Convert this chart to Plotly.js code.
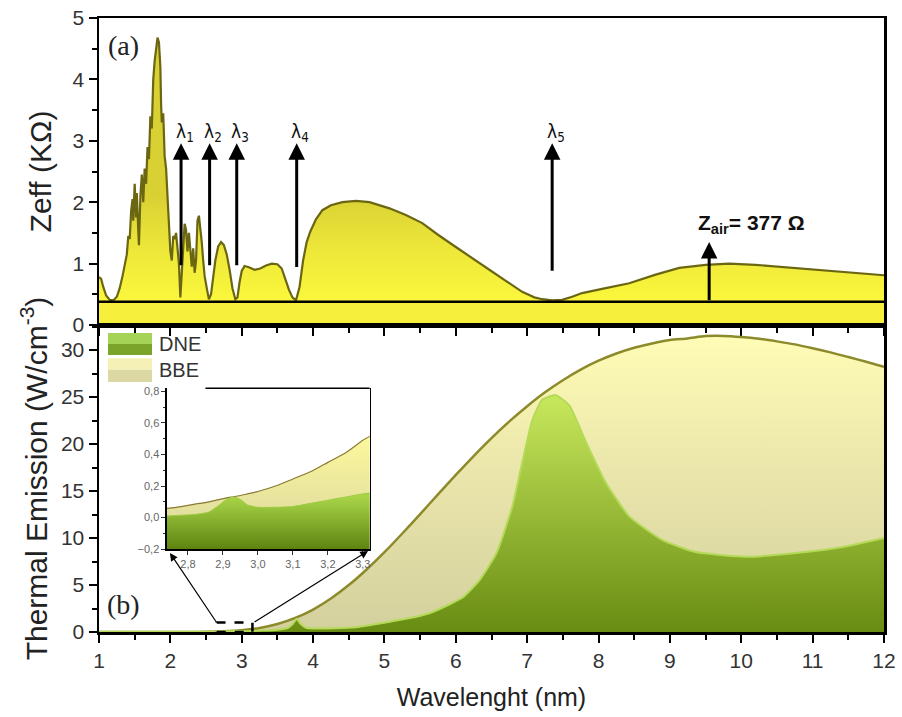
<!DOCTYPE html>
<html>
<head>
<meta charset="utf-8">
<script src="https://cdn.plot.ly/plotly-3.0.1.min.js"></script>
<style>html,body{margin:0;padding:0;background:#fff;}#chart{width:902px;height:717px;}</style>
</head>
<body>
<div id="chart"></div>
<script>
// ---- Panel (a): effective impedance Zeff (kOhm) vs wavelength ----
const zeffX = [1.00,1.03,1.06,1.10,1.15,1.20,1.25,1.29,1.33,1.36,1.39,1.41,1.43,1.45,1.47,1.48,1.50,1.52,1.53,1.55,1.56,1.58,1.60,1.62,1.64,1.66,1.68,1.70,1.72,1.74,1.76,1.78,1.80,1.82,1.84,1.86,1.87,1.88,1.90,1.92,1.94,1.96,1.98,2.00,2.02,2.04,2.06,2.08,2.10,2.12,2.14,2.16,2.18,2.20,2.22,2.24,2.26,2.28,2.30,2.32,2.34,2.36,2.38,2.40,2.42,2.44,2.46,2.48,2.51,2.54,2.57,2.60,2.63,2.67,2.71,2.75,2.79,2.83,2.87,2.91,2.94,2.97,3.00,3.04,3.10,3.18,3.26,3.34,3.42,3.50,3.56,3.61,3.66,3.71,3.76,3.81,3.86,3.91,3.96,4.04,4.13,4.25,4.41,4.60,4.79,5.07,5.30,5.53,5.75,6.00,6.25,6.47,6.70,6.93,7.10,7.21,7.35,7.49,7.63,7.77,8.10,8.43,8.80,9.13,9.50,9.83,10.20,10.52,10.90,11.22,11.60,12.00];
const zeffY = [0.78,0.75,0.62,0.48,0.41,0.40,0.46,0.60,0.80,0.98,1.15,1.45,1.40,1.85,2.05,1.70,2.30,1.75,2.15,1.55,1.30,2.10,2.45,2.00,2.55,2.30,2.90,2.70,3.40,3.20,4.00,4.30,4.50,4.68,4.60,4.20,3.60,3.30,3.45,2.75,2.55,2.10,1.70,1.20,1.05,1.45,1.40,1.50,1.25,1.00,0.45,0.90,1.35,1.65,1.55,1.20,1.50,1.25,0.95,1.25,0.85,1.05,1.70,1.78,1.60,1.35,1.05,0.80,0.60,0.42,0.50,0.75,1.05,1.28,1.35,1.30,1.15,0.90,0.60,0.42,0.45,0.70,0.88,0.96,0.94,0.90,0.92,0.97,1.00,0.99,0.92,0.75,0.58,0.45,0.40,0.62,1.05,1.35,1.52,1.72,1.87,1.95,2.00,2.02,2.00,1.90,1.79,1.66,1.47,1.27,1.08,0.90,0.72,0.54,0.45,0.42,0.40,0.41,0.46,0.52,0.60,0.68,0.82,0.93,0.98,1.00,0.98,0.95,0.92,0.88,0.85,0.81];
const zAir = 0.377; // kOhm
const lambdaX = [2.15, 2.55, 2.93, 3.77, 7.35];
const lambdaNames = ['λ<sub>1</sub>','λ<sub>2</sub>','λ<sub>3</sub>','λ<sub>4</sub>','λ<sub>5</sub>'];
const zAirArrowX = 9.55;

// ---- Panel (b): thermal emission ----
const bbeX = [1.0,1.25,1.5,1.75,2.0,2.25,2.5,2.75,3.0,3.25,3.5,3.75,4.0,4.25,4.5,4.75,5.0,5.25,5.5,5.75,6.0,6.25,6.5,6.75,7.0,7.25,7.5,7.75,8.0,8.25,8.5,8.75,9.0,9.25,9.5,9.75,10.0,10.25,10.5,10.75,11.0,11.25,11.5,11.75,12.0];
const bbeY = [0,0,0,0,0.001,0.005,0.02,0.07,0.19,0.43,0.85,1.50,2.39,3.56,4.99,6.65,8.49,10.48,12.54,14.64,16.71,18.72,20.63,22.40,24.02,25.50,26.79,27.92,28.86,29.63,30.24,30.70,31.06,31.23,31.48,31.50,31.39,31.20,30.92,30.60,30.19,29.75,29.25,28.75,28.20];
const dneX = [1.0,2.0,2.6,2.9,3.0,3.3,3.5,3.65,3.72,3.77,3.82,3.9,4.0,4.3,4.6,4.93,5.3,5.63,5.9,6.1,6.33,6.57,6.79,6.93,7.07,7.21,7.4,7.59,7.83,8.1,8.43,8.89,9.36,10.06,10.76,11.46,12.0];
const dneY = [0.02,0.02,0.03,0.10,0.07,0.15,0.25,0.45,0.90,1.40,0.90,0.45,0.38,0.40,0.50,0.90,1.40,2.00,2.90,3.70,5.50,8.40,13.30,18.00,22.50,24.70,25.20,24.10,20.10,15.90,12.30,9.80,8.50,8.00,8.40,9.10,10.00];

// ---- Inset (zoom 2.74 - 3.32) ----
const insetX   = [2.74,2.78,2.82,2.86,2.89,2.91,2.93,2.95,2.97,3.00,3.05,3.10,3.15,3.20,3.25,3.30,3.32];
const insetBBE = [0.058,0.07,0.085,0.10,0.115,0.125,0.132,0.14,0.15,0.165,0.20,0.245,0.29,0.35,0.41,0.49,0.516];
const insetDNE = [0.01,0.015,0.02,0.035,0.08,0.115,0.13,0.115,0.08,0.065,0.065,0.07,0.09,0.11,0.13,0.15,0.155];
const insetBase = insetX.map(() => -0.2);

const legendNames = ['DNE','BBE'];

const FONT = 'Liberation Sans, Arial, sans-serif';
const SERIF = 'Liberation Serif, DejaVu Serif, serif';

const traces = [
  // panel a
  {x: zeffX, y: zeffY, xaxis:'x', yaxis:'y', type:'scatter', mode:'lines', fill:'tozeroy',
   line:{color:'#6b6612', width:2.2},
   fillgradient:{type:'vertical', start:0.3, stop:2.1, colorscale:[[0,'#fcf93c'],[0.5,'#eee83a'],[1,'#d9d134']]},
   showlegend:false, hoverinfo:'skip'},
  {x: [1, 12], y: [zAir, zAir], xaxis:'x', yaxis:'y', type:'scatter', mode:'lines', fill:'tozeroy',
   fillcolor:'#f6f03c', line:{color:'#000', width:2.5}, showlegend:false, hoverinfo:'skip'},
  // panel b
  {x: bbeX, y: bbeY, xaxis:'x2', yaxis:'y2', type:'scatter', mode:'lines', fill:'tozeroy', name:legendNames[1],
   line:{color:'#8c8a2a', width:2.5, shape:'spline', smoothing:0.6},
   fillgradient:{type:'vertical', start:0, stop:31.5, colorscale:[[0,'#d4d09e'],[0.5,'#e8e4aa'],[1,'#fffcb6']]},
   showlegend:false, hoverinfo:'skip'},
  {x: dneX, y: dneY, xaxis:'x2', yaxis:'y2', type:'scatter', mode:'lines', fill:'tozeroy', name:legendNames[0],
   line:{color:'#b4da58', width:2, shape:'spline', smoothing:0.5},
   fillgradient:{type:'vertical', start:0, stop:25.2, colorscale:[[0,'#688c12'],[0.45,'#93b534'],[1,'#c8e85c']]},
   showlegend:false, hoverinfo:'skip'},
  // inset
  {x: insetX, y: insetBase, xaxis:'x3', yaxis:'y3', type:'scatter', mode:'lines', line:{width:0, color:'rgba(0,0,0,0)'}, showlegend:false, hoverinfo:'skip'},
  {x: insetX, y: insetBBE, xaxis:'x3', yaxis:'y3', type:'scatter', mode:'lines', fill:'tonexty',
   line:{color:'#8a7a30', width:1.2, shape:'spline', smoothing:0.6},
   fillgradient:{type:'vertical', start:-0.2, stop:0.52, colorscale:[[0,'#d8d4a0'],[1,'#fcf89c']]},
   showlegend:false, hoverinfo:'skip'},
  {x: insetX, y: insetBase, xaxis:'x3', yaxis:'y3', type:'scatter', mode:'lines', line:{width:0, color:'rgba(0,0,0,0)'}, showlegend:false, hoverinfo:'skip'},
  {x: insetX, y: insetDNE, xaxis:'x3', yaxis:'y3', type:'scatter', mode:'lines', fill:'tonexty',
   line:{color:'#9ccc40', width:1, shape:'spline', smoothing:0.5},
   fillgradient:{type:'vertical', start:-0.2, stop:0.13, colorscale:[[0,'#5e8410'],[1,'#a8d448']]},
   showlegend:false, hoverinfo:'skip'}
];

const axBase = {showline:true, linecolor:'#000', linewidth:2.5, ticks:'outside', ticklen:8, tickwidth:2, tickcolor:'#000',
  showgrid:false, zeroline:false, tickfont:{family:FONT, size:21, color:'#333'}};

const annotations = [];
// lambda arrows and labels
lambdaX.forEach((lx, i) => {
  const tail = i === 4 ? 0.86 : (i === 3 ? 0.92 : 0.95);
  annotations.push({xref:'x', yref:'y', axref:'x', ayref:'y', x:lx, y:2.96, ax:lx, ay:tail, text:'', showarrow:true,
    arrowhead:2, arrowsize:1.1, arrowwidth:3, arrowcolor:'#000'});
  annotations.push({xref:'x', yref:'y', x:lx + 0.05, y:3.14, text:lambdaNames[i], showarrow:false,
    font:{family:'DejaVu Sans Condensed, DejaVu Sans, sans-serif', size:19, color:'#111'}});
});
annotations.push({xref:'x', yref:'y', axref:'x', ayref:'y', x:zAirArrowX, y:1.35, ax:zAirArrowX, ay:zAir, text:'', showarrow:true,
  arrowhead:2, arrowsize:1.1, arrowwidth:3, arrowcolor:'#000'});
annotations.push({xref:'x', yref:'y', x:10.15, y:1.64, text:'<b>Z<sub>air</sub>= 377 Ω</b>', showarrow:false,
  font:{family:FONT, size:21, color:'#111'}});
annotations.push({xref:'x', yref:'y', x:1.1, y:4.56, xanchor:'left', text:'(a)', showarrow:false, font:{family:SERIF, size:28, color:'#222'}});
annotations.push({xref:'x2', yref:'y2', x:1.08, y:2.9, xanchor:'left', text:'(b)', showarrow:false, font:{family:SERIF, size:28, color:'#222'}});
// arrows from zoom rectangle to inset (heads at inset corners, in paper coords)
annotations.push({xref:'paper', yref:'paper', x:0.0904, y:0.1287, ax:47, ay:70, text:'', showarrow:true, arrowhead:2, arrowsize:1.3, arrowwidth:1.2, arrowcolor:'#000'});
annotations.push({xref:'paper', yref:'paper', x:0.3427, y:0.1319, ax:-115, ay:72, text:'', showarrow:true, arrowhead:2, arrowsize:1.3, arrowwidth:1.2, arrowcolor:'#000'});
// legend texts
annotations.push({xref:'paper', yref:'paper', x:0.074, y:0.469, xanchor:'left', text:legendNames[0], showarrow:false, font:{family:FONT, size:20, color:'#333'}});
annotations.push({xref:'paper', yref:'paper', x:0.074, y:0.427, xanchor:'left', text:legendNames[1], showarrow:false, font:{family:FONT, size:20, color:'#333'}});

const shapes = [
  // zoom rectangle
  {type:'rect', xref:'x2', yref:'y2', x0:2.65, x1:3.15, y0:0, y1:1.0, line:{color:'#000', width:2.5, dash:'dash'}},
  // inset top border (partly hidden by legend)
  {type:'line', xref:'x3', yref:'paper', x0:2.85, x1:3.32, y0:0.397, y1:0.397, line:{color:'#000', width:1.5}},
  // legend swatches
  {type:'rect', xref:'paper', yref:'paper', x0:0.0115, x1:0.0675, y0:0.469, y1:0.487, line:{width:0}, fillcolor:'#a4d356'},
  {type:'rect', xref:'paper', yref:'paper', x0:0.0115, x1:0.0675, y0:0.451, y1:0.469, line:{width:0}, fillcolor:'#7aa42a'},
  {type:'rect', xref:'paper', yref:'paper', x0:0.0115, x1:0.0675, y0:0.427, y1:0.446, line:{width:0}, fillcolor:'#f4f0b6'},
  {type:'rect', xref:'paper', yref:'paper', x0:0.0115, x1:0.0675, y0:0.407, y1:0.427, line:{width:0}, fillcolor:'#dcd8a4'}
];

const layout = {
  width:902, height:717,
  margin:{l:99, r:18, t:18, b:85},
  paper_bgcolor:'#fff', plot_bgcolor:'rgba(0,0,0,0)',
  separators:',.',
  showlegend:false,
  xaxis: Object.assign({}, axBase, {domain:[0,1], anchor:'y', range:[1,12], dtick:1, showticklabels:false, mirror:true,
    minor:{dtick:0.5, ticklen:5, tickwidth:2, tickcolor:'#000', ticks:'outside'}}),
  yaxis: Object.assign({}, axBase, {domain:[0.5,1], anchor:'x', range:[0,5], dtick:1, mirror:true,
    minor:{dtick:0.5, ticklen:5, tickwidth:2, tickcolor:'#000', ticks:'outside'},
    title:{text:'Zeff (KΩ)', font:{family:FONT, size:30, color:'#222'}, standoff:12}}),
  xaxis2: Object.assign({}, axBase, {domain:[0,1], anchor:'y2', range:[1,12], dtick:1, mirror:true,
    minor:{dtick:0.5, ticklen:5, tickwidth:2, tickcolor:'#000', ticks:'outside'},
    title:{text:'Wavelenght (nm)', font:{family:FONT, size:25, color:'#222'}, standoff:18}}),
  yaxis2: Object.assign({}, axBase, {domain:[0,0.5], anchor:'x2', range:[0,32.66], dtick:5, mirror:true,
    minor:{dtick:2.5, ticklen:5, tickwidth:2, tickcolor:'#000', ticks:'outside'},
    title:{text:'Thermal Emission (W/cm<sup>-3</sup>)', font:{family:FONT, size:30, color:'#222'}, standoff:5}}),
  xaxis3: {domain:[0.0866,0.345], anchor:'y3', range:[2.74,3.32], dtick:0.1, tickformat:'.1f', showline:true, linecolor:'#000', linewidth:1.5,
    ticks:'outside', ticklen:4, tickwidth:1, tickcolor:'#333', showgrid:false, zeroline:false,
    tickfont:{family:FONT, size:11, color:'#666'}},
  yaxis3: {domain:[0.135,0.397], anchor:'x3', range:[-0.2,0.82], dtick:0.2, tick0:0, tickformat:'.1f', showline:true, linecolor:'#000', linewidth:1.5, mirror:true,
    ticks:'outside', ticklen:4, tickwidth:1, tickcolor:'#333', showgrid:false, zeroline:false,
    minor:{dtick:0.1, ticklen:2, tickwidth:1, tickcolor:'#333', ticks:'outside'},
    tickfont:{family:FONT, size:11, color:'#666'}},
  annotations: annotations,
  shapes: shapes
};

Plotly.newPlot('chart', traces, layout, {displayModeBar:false, staticPlot:true});
</script>
</body>
</html>
